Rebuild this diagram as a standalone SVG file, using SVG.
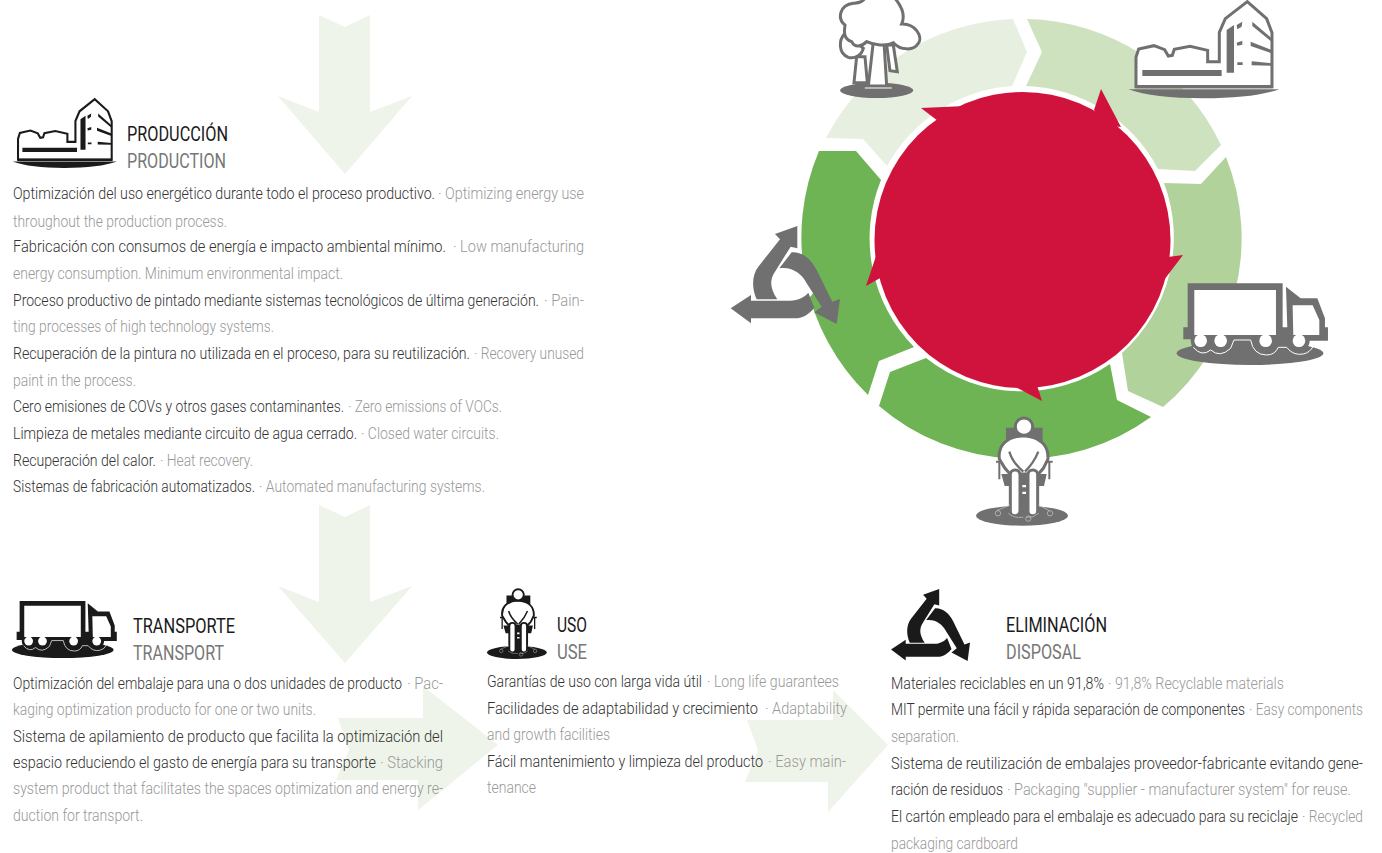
<svg xmlns="http://www.w3.org/2000/svg" width="1382" height="853" viewBox="0 0 1382 853">
<style>
text{font-family:Roboto,"Liberation Sans",sans-serif;font-size:16px;font-weight:300}
.d{fill:#333}.g{fill:#999}
text.h{font-size:21px;font-weight:400;fill:#1a1a1a}text.s{font-size:21px;font-weight:400;fill:#777}
.arrow{fill:#eff4ea}
.ic{fill:currentColor}.w{fill:#fff;stroke:currentColor;stroke-width:9}
.wave{fill:none;stroke:#fff;stroke-width:3}
</style>
<defs>
<g id="i-building">
<path class="w" d="M288,260V172L296,147L342,137L374,149L385,168L397,166L403,148L450,139L503,151V185H538V97L556,56L622,5L680,56L696,98V260Z"/>
<path class="ic" d="M307,210H545V228H307ZM560,90L582,75V218H560ZM590,75L607,65L605,80L592,88ZM590,128L607,122V134L592,137ZM592,187H608V195H592ZM637,65L695,115V125L637,78ZM632,125L695,150V160L632,138ZM635,184L695,190V197L635,196ZM287,255H698V265H287Z"/>
<path class="ic" d="M265,268H718Q640,295 490,295Q340,295 265,268Z"/>
</g>
<g id="i-truck">
<ellipse class="ic" cx="870" cy="250" rx="220" ry="35"/>
<path class="ic" d="M683,40H968V172H982L978,50L1022,85H1072L1095,145V172H1104V212H1040V235H700V208H670V172H683Z"/>
<circle class="ic" cx="722" cy="212" r="30"/><circle class="ic" cx="782" cy="212" r="30"/><circle class="ic" cx="917" cy="212" r="32"/><circle class="ic" cx="1017" cy="212" r="32"/>
<path fill="#fff" d="M703,60H948V195H703ZM998,106H1058L1078,150V195H1000Z"/>
<circle fill="#fff" cx="722" cy="212" r="19"/><circle fill="#fff" cx="782" cy="212" r="19"/><circle fill="#fff" cx="917" cy="212" r="19"/><circle fill="#fff" cx="1017" cy="212" r="19"/>
<path class="wave" d="M700,232Q725,262 752,240Q780,265 812,235L822,210H872Q880,255 920,255Q945,255 955,232H980Q1000,258 1030,252Q1050,248 1060,228"/>
</g>
<g id="i-person">
<ellipse class="ic" cx="186" cy="737" rx="138" ry="30"/>
<path class="ic" d="M138,473H248V545H138ZM124,612H260L252,648H134Z"/>
<path fill="none" stroke="currentColor" stroke-width="6" d="M108,575H135M250,575H278M118,575V628M268,575V628"/>
<path class="w" d="M190,497C136,500 114,530 118,567L135,595L150,612H235L250,595L264,567C266,530 244,500 190,497Z"/>
<circle class="w" cx="192" cy="470" r="26"/>
<path fill="none" stroke="currentColor" stroke-width="7" d="M148,545C155,570 172,590 190,605M235,545C225,570 210,590 195,605"/>
<path class="ic" d="M180,610H205V730H180Z"/>
<rect class="w" x="151" y="600" width="29" height="137" rx="14" stroke-width="7"/>
<rect class="w" x="204" y="600" width="29" height="137" rx="14" stroke-width="7"/>
<path fill="#fff" d="M187,645H198V652H187ZM187,665H198V672H187Z"/>
<path fill="none" stroke="#ccc" stroke-width="2" d="M150,705L110,722M235,705L268,722M145,730Q160,745 190,742M200,742Q220,745 236,730"/>
<circle fill="none" stroke="#ccc" stroke-width="2" cx="114" cy="730" r="8"/><circle fill="none" stroke="#ccc" stroke-width="2" cx="270" cy="730" r="8"/><circle fill="none" stroke="#ccc" stroke-width="2" cx="205" cy="746" r="8"/>
</g>
<g id="i-recycle">
<path fill="#fff" d="M215,170A55,55 0 1 1 214,275A55,55 0 1 1 215,170Z"/>
<path class="ic" d="M165,72L232,48V115L212,110L165,185C148,210 150,235 172,268H110C95,235 95,195 115,170L180,88Z"/>
<path class="ic" d="M32,295L93,255V272H210C235,272 255,260 265,248L283,293C270,310 250,325 225,325H93V340Z"/>
<path class="ic" d="M178,175L215,127C245,125 272,145 290,180L337,275L360,267L350,342L283,307L305,290L260,220C245,190 215,170 178,175Z"/>
</g>
</defs>

<g id="connectors">
<path class="arrow" d="M319,15L345,27L370,15V112L412,96L345,174L278,96L319,112Z"/>
<path class="arrow" d="M319,505L345,517L370,505V602L412,586L345,663L278,586L319,602Z"/>
<path class="arrow" d="M338,718H423V686L498,745L418,810V780H336L349,750Z"/>
<path class="arrow" d="M747,720H833V690L888,745L828,812V782H745L758,750Z"/>
</g>

<g id="cycle">
<path fill="#e6efe0" d="M826,138A220,220 0 0 1 1013,19L1027,52L1012,86A155,155 0 0 0 887,166L863,139Z"/>
<path fill="#cfe2c0" d="M1027,19A220,220 0 0 1 1221,145L1195,171L1158,169A155,155 0 0 0 1026,86L1042,52Z"/>
<path fill="#b1d29b" d="M1226,157A220,220 0 0 1 1163,407L1128,391L1122,353A155,155 0 0 0 1164,183L1201,184Z"/>
<path fill="#6eb354" d="M1151,417A220,220 0 0 1 879,406L890,372L926,358A155,155 0 0 0 1110,364L1117,400Z"/>
<path fill="#6eb354" d="M868,395A220,220 0 0 1 819,151H856L881,180A155,155 0 0 0 914,347L879,361Z"/>
<circle fill="#d0133c" cx="1022.500" cy="240" r="148"/>
<path fill="#d0133c" d="M966,106L921,108L938,121L960,125ZM1094,110L1101,89L1121,127L1105,125ZM1168,257L1183,255L1161,284L1150,270ZM1036,382L1042,401L1008,383L1022,375ZM878,250L866,286L882,277L890,255Z"/>
</g>

<g id="node-tree" style="color:#707070" transform="translate(730,0) scale(.3333)">
<ellipse class="ic" cx="440" cy="271" rx="110" ry="23"/>
<path class="w" d="M470,135L480,212L502,215L490,135ZM380,170L372,248H412L405,170Z"/>
<path class="w" d="M345,100C325,120 325,160 355,172C375,178 395,165 400,145Z"/>
<path class="w" stroke-width="7" d="M430,125L415,258H470L462,125ZM400,258H490V270H400Z"/>
<path class="w" stroke-width="10" d="M365,125C335,115 345,85 345,75C320,55 330,15 370,10C385,8 395,8 405,-5H495C520,25 525,50 515,72C555,70 580,110 565,130C550,155 510,150 490,128C470,140 430,135 410,125C395,140 375,145 365,125Z"/>
</g>
<g id="node-building" style="color:#707070"><use href="#i-building" transform="translate(1040,0) scale(.3333)"/></g>
<g id="node-truck" style="color:#707070"><use href="#i-truck" transform="translate(960,270) scale(.3333)"/></g>
<g id="node-person" style="color:#707070"><use href="#i-person" transform="translate(960,270) scale(.3333)"/></g>
<g id="node-recycle" style="color:#707070"><use href="#i-recycle" transform="translate(720,210) scale(.3333)"/></g>

<g id="node-produccion" style="color:#1a1a1a">
<use href="#i-building" transform="translate(-48.100,98) scale(.2296,.2373)"/>
<text class="h" transform="translate(127,141) scale(.72,1)" textLength="140.300" lengthAdjust="spacingAndGlyphs">PRODUCCIÓN</text>
<text class="s" transform="translate(127,168) scale(.72,1)" textLength="137.500" lengthAdjust="spacingAndGlyphs">PRODUCTION</text>
<text class="d" transform="translate(13,199) scale(.8,1)" textLength="527.500" lengthAdjust="spacingAndGlyphs">Optimización del uso energético durante todo el proceso productivo.</text>
<text class="g" transform="translate(438,199) scale(.8,1)" textLength="182.500" lengthAdjust="spacingAndGlyphs">· Optimizing energy use</text>
<text class="g" transform="translate(13,227) scale(.8,1)" textLength="267.500" lengthAdjust="spacingAndGlyphs">throughout the production process.</text>
<text class="d" transform="translate(13,252) scale(.8,1)" textLength="541.250" lengthAdjust="spacingAndGlyphs">Fabricación con consumos de energía e impacto ambiental mínimo.</text>
<text class="g" transform="translate(453,252) scale(.8,1)" textLength="163.750" lengthAdjust="spacingAndGlyphs">· Low manufacturing</text>
<text class="g" transform="translate(13,279) scale(.8,1)" textLength="412.500" lengthAdjust="spacingAndGlyphs">energy consumption. Minimum environmental impact.</text>
<text class="d" transform="translate(13,306) scale(.8,1)" textLength="657.500" lengthAdjust="spacingAndGlyphs">Proceso productivo de pintado mediante sistemas tecnológicos de última generación.</text>
<text class="g" transform="translate(544,306) scale(.8,1)" textLength="50" lengthAdjust="spacingAndGlyphs">· Pain-</text>
<text class="g" transform="translate(13,332) scale(.8,1)" textLength="326.250" lengthAdjust="spacingAndGlyphs">ting processes of high technology systems.</text>
<text class="d" transform="translate(13,359) scale(.8,1)" textLength="571.250" lengthAdjust="spacingAndGlyphs">Recuperación de la pintura no utilizada en el proceso, para su reutilización.</text>
<text class="g" transform="translate(474,359) scale(.8,1)" textLength="137.500" lengthAdjust="spacingAndGlyphs">· Recovery unused</text>
<text class="g" transform="translate(13,386) scale(.8,1)" textLength="153.750" lengthAdjust="spacingAndGlyphs">paint in the process.</text>
<text class="d" transform="translate(13,412) scale(.8,1)" textLength="413.750" lengthAdjust="spacingAndGlyphs">Cero emisiones de COVs y otros gases contaminantes.</text>
<text class="g" transform="translate(348,412) scale(.8,1)" textLength="192.500" lengthAdjust="spacingAndGlyphs">· Zero emissions of VOCs.</text>
<text class="d" transform="translate(13,439) scale(.8,1)" textLength="430" lengthAdjust="spacingAndGlyphs">Limpieza de metales mediante circuito de agua cerrado.</text>
<text class="g" transform="translate(361,439) scale(.8,1)" textLength="172.500" lengthAdjust="spacingAndGlyphs">· Closed water circuits.</text>
<text class="d" transform="translate(13,466) scale(.8,1)" textLength="178.750" lengthAdjust="spacingAndGlyphs">Recuperación del calor.</text>
<text class="g" transform="translate(160,466) scale(.8,1)" textLength="116.250" lengthAdjust="spacingAndGlyphs">· Heat recovery.</text>
<text class="d" transform="translate(13,492) scale(.8,1)" textLength="302.500" lengthAdjust="spacingAndGlyphs">Sistemas de fabricación automatizados.</text>
<text class="g" transform="translate(259,492) scale(.8,1)" textLength="282.500" lengthAdjust="spacingAndGlyphs">· Automated manufacturing systems.</text>
</g>

<g id="node-transporte" style="color:#1a1a1a">
<use href="#i-truck" transform="translate(-138,591.700) scale(.2308,.2327)"/>
<text class="h" transform="translate(133,633) scale(.72,1)" textLength="141.700" lengthAdjust="spacingAndGlyphs">TRANSPORTE</text>
<text class="s" transform="translate(133,660) scale(.72,1)" textLength="126.400" lengthAdjust="spacingAndGlyphs">TRANSPORT</text>
<text class="d" transform="translate(13,689) scale(.8,1)" textLength="486.250" lengthAdjust="spacingAndGlyphs">Optimización del embalaje para una o dos unidades de producto</text>
<text class="g" transform="translate(407,689) scale(.8,1)" textLength="45" lengthAdjust="spacingAndGlyphs">· Pac-</text>
<text class="g" transform="translate(13,715) scale(.8,1)" textLength="378.750" lengthAdjust="spacingAndGlyphs">kaging optimization producto for one or two units.</text>
<text class="d" transform="translate(13,742) scale(.8,1)" textLength="537.500" lengthAdjust="spacingAndGlyphs">Sistema de apilamiento de producto que facilita la optimización del</text>
<text class="d" transform="translate(13,768) scale(.8,1)" textLength="453.750" lengthAdjust="spacingAndGlyphs">espacio reduciendo el gasto de energía para su transporte</text>
<text class="g" transform="translate(380,768) scale(.8,1)" textLength="78.750" lengthAdjust="spacingAndGlyphs">· Stacking</text>
<text class="g" transform="translate(13,794) scale(.8,1)" textLength="537.500" lengthAdjust="spacingAndGlyphs">system product that facilitates the spaces optimization and energy re-</text>
<text class="g" transform="translate(13,821) scale(.8,1)" textLength="162.500" lengthAdjust="spacingAndGlyphs">duction for transport.</text>
</g>

<g id="node-uso" style="color:#1a1a1a">
<use href="#i-person" transform="translate(476.600,493.300) scale(.2166,.216)"/>
<text class="h" transform="translate(557,632) scale(.72,1)" textLength="41.700" lengthAdjust="spacingAndGlyphs">USO</text>
<text class="s" transform="translate(557,659) scale(.72,1)" textLength="41.700" lengthAdjust="spacingAndGlyphs">USE</text>
<text class="d" transform="translate(487,687) scale(.8,1)" textLength="268.750" lengthAdjust="spacingAndGlyphs">Garantías de uso con larga vida útil</text>
<text class="g" transform="translate(707,687) scale(.8,1)" textLength="165" lengthAdjust="spacingAndGlyphs">· Long life guarantees</text>
<text class="d" transform="translate(487,714) scale(.8,1)" textLength="338.750" lengthAdjust="spacingAndGlyphs">Facilidades de adaptabilidad y crecimiento</text>
<text class="g" transform="translate(765,714) scale(.8,1)" textLength="102.500" lengthAdjust="spacingAndGlyphs">· Adaptability</text>
<text class="g" transform="translate(487,740) scale(.8,1)" textLength="153.750" lengthAdjust="spacingAndGlyphs">and growth facilities</text>
<text class="d" transform="translate(487,767) scale(.8,1)" textLength="345" lengthAdjust="spacingAndGlyphs">Fácil mantenimiento y limpieza del producto</text>
<text class="g" transform="translate(768,767) scale(.8,1)" textLength="97.500" lengthAdjust="spacingAndGlyphs">· Easy main-</text>
<text class="g" transform="translate(487,793) scale(.8,1)" textLength="61.250" lengthAdjust="spacingAndGlyphs">tenance</text>
</g>

<g id="node-eliminacion" style="color:#1a1a1a">
<use href="#i-recycle" transform="translate(883.300,577.200) scale(.2409,.245)"/>
<text class="h" transform="translate(1006,632) scale(.72,1)" textLength="140.300" lengthAdjust="spacingAndGlyphs">ELIMINACIÓN</text>
<text class="s" transform="translate(1006,659) scale(.72,1)" textLength="104.200" lengthAdjust="spacingAndGlyphs">DISPOSAL</text>
<text class="d" transform="translate(891,689) scale(.8,1)" textLength="266.250" lengthAdjust="spacingAndGlyphs">Materiales reciclables en un 91,8%</text>
<text class="g" transform="translate(1108,689) scale(.8,1)" textLength="220" lengthAdjust="spacingAndGlyphs">· 91,8% Recyclable materials</text>
<text class="d" transform="translate(891,715) scale(.8,1)" textLength="442.500" lengthAdjust="spacingAndGlyphs">MIT permite una fácil y rápida separación de componentes</text>
<text class="g" transform="translate(1249,715) scale(.8,1)" textLength="142.500" lengthAdjust="spacingAndGlyphs">· Easy components</text>
<text class="g" transform="translate(891,742) scale(.8,1)" textLength="85" lengthAdjust="spacingAndGlyphs">separation.</text>
<text class="d" transform="translate(891,769) scale(.8,1)" textLength="590" lengthAdjust="spacingAndGlyphs">Sistema de reutilización de embalajes proveedor-fabricante evitando gene-</text>
<text class="d" transform="translate(891,795) scale(.8,1)" textLength="140" lengthAdjust="spacingAndGlyphs">ración de residuos</text>
<text class="g" transform="translate(1007,795) scale(.8,1)" textLength="430" lengthAdjust="spacingAndGlyphs">· Packaging "supplier - manufacturer system" for reuse.</text>
<text class="d" transform="translate(891,822) scale(.8,1)" textLength="508.750" lengthAdjust="spacingAndGlyphs">El cartón empleado para el embalaje es adecuado para su reciclaje</text>
<text class="g" transform="translate(1302,822) scale(.8,1)" textLength="76.250" lengthAdjust="spacingAndGlyphs">· Recycled</text>
<text class="g" transform="translate(891,849) scale(.8,1)" textLength="158.750" lengthAdjust="spacingAndGlyphs">packaging cardboard</text>
</g>
</svg>
